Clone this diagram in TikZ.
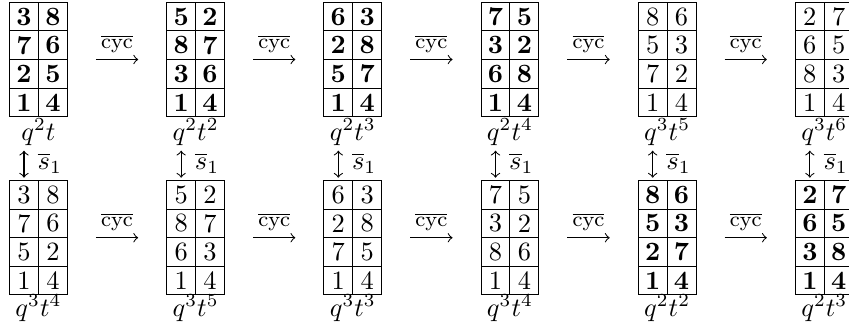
\documentclass[tikz,border=0pt]{standalone}
\usepackage{amsmath}
\usetikzlibrary{matrix,positioning}

\begin{document}
\begin{tikzpicture}[>=to,node distance=37.2pt,
        tab/.style={matrix of nodes,inner sep=0pt,outer sep=0pt,
            column sep=-0.4pt,row sep=-0.4pt,
            nodes={draw,minimum width=10.94pt,minimum height=10.81pt,inner sep=0pt,anchor=center}},
        heavy/.style={nodes={font=\bfseries}},
        lab/.style={inner sep=0pt},
        cyc/.style={->,shorten >=10.6pt,shorten <=10.6pt},
        cyclab/.style={anchor=base,yshift=4.1pt,inner sep=0pt,font=\footnotesize},
        flip/.style={<->,xshift=-1.1pt,shorten <=1.8pt,shorten >=1.1pt}]
            \useasboundingbox (0,0) rectangle (321.3pt,-124.1pt);

            % top row
            \matrix[tab,heavy,anchor=north west] (t1) at (3.41pt,-0.7pt) {
                3 & 8 \\ 7 & 6 \\ 2 & 5 \\ 1 & 4 \\ };
            \matrix[tab,heavy] (t2) [right=of t1] {
                5 & 2 \\ 8 & 7 \\ 3 & 6 \\ 1 & 4 \\ };
            \matrix[tab,heavy] (t3) [right=of t2] {
                6 & 3 \\ 2 & 8 \\ 5 & 7 \\ 1 & 4 \\ };
            \matrix[tab,heavy] (t4) [right=of t3] {
                7 & 5 \\ 3 & 2 \\ 6 & 8 \\ 1 & 4 \\ };
            \matrix[tab] (t5) [right=of t4] {
                8 & 6 \\ 5 & 3 \\ 7 & 2 \\ 1 & 4 \\ };
            \matrix[tab] (t6) [right=of t5] {
                2 & 7 \\ 6 & 5 \\ 8 & 3 \\ 1 & 4 \\ };

            % bottom row
            \matrix[tab] (b1) [below=23.8pt of t1] {
                3 & 8 \\ 7 & 6 \\ 5 & 2 \\ 1 & 4 \\ };
            \matrix[tab] (b2) [right=of b1] {
                5 & 2 \\ 8 & 7 \\ 6 & 3 \\ 1 & 4 \\ };
            \matrix[tab] (b3) [right=of b2] {
                6 & 3 \\ 2 & 8 \\ 7 & 5 \\ 1 & 4 \\ };
            \matrix[tab] (b4) [right=of b3] {
                7 & 5 \\ 3 & 2 \\ 8 & 6 \\ 1 & 4 \\ };
            \matrix[tab,heavy] (b5) [right=of b4] {
                8 & 6 \\ 5 & 3 \\ 2 & 7 \\ 1 & 4 \\ };
            \matrix[tab,heavy] (b6) [right=of b5] {
                2 & 7 \\ 6 & 5 \\ 3 & 8 \\ 1 & 4 \\ };

            % weights
            \node[lab] (lt1) [below=0.4pt of t1] {$q^2t$};
            \node[lab] (lt2) [below=0.4pt of t2] {$q^2t^2$};
            \node[lab] (lt3) [below=0.4pt of t3] {$q^2t^3$};
            \node[lab] (lt4) [below=0.4pt of t4] {$q^2t^4$};
            \node[lab] (lt5) [below=0.4pt of t5] {$q^3t^5$};
            \node[lab] (lt6) [below=0.4pt of t6] {$q^3t^6$};
            \node[lab] (lb1) [below=-0.4pt of b1] {$q^3t^4$};
            \node[lab] (lb2) [below=-0.4pt of b2] {$q^3t^5$};
            \node[lab] (lb3) [below=-0.4pt of b3] {$q^3t^3$};
            \node[lab] (lb4) [below=-0.4pt of b4] {$q^3t^4$};
            \node[lab] (lb5) [below=-0.4pt of b5] {$q^2t^2$};
            \node[lab] (lb6) [below=-0.4pt of b6] {$q^2t^3$};

            \path[cyc]
                (t1) edge node[cyclab] {$\overline{\mathrm{cyc}}$} (t2)
                (t2) edge node[cyclab] {$\overline{\mathrm{cyc}}$} (t3)
                (t3) edge node[cyclab] {$\overline{\mathrm{cyc}}$} (t4)
                (t4) edge node[cyclab] {$\overline{\mathrm{cyc}}$} (t5)
                (t5) edge node[cyclab] {$\overline{\mathrm{cyc}}$} (t6)
                (b1) edge node[cyclab] {$\overline{\mathrm{cyc}}$} (b2)
                (b2) edge node[cyclab] {$\overline{\mathrm{cyc}}$} (b3)
                (b3) edge node[cyclab] {$\overline{\mathrm{cyc}}$} (b4)
                (b4) edge node[cyclab] {$\overline{\mathrm{cyc}}$} (b5)
                (b5) edge node[cyclab] {$\overline{\mathrm{cyc}}$} (b6);

            \draw[flip] (lt1.south -| t1-4-1) -- (b1-1-1.north) node[midway,right=5pt,lab] {$\overline{s}_1$};
            \draw[flip] (lt2.south -| t2-4-1) -- (b2-1-1.north) node[midway,right=5pt,lab] {$\overline{s}_1$};
            \draw[flip] (lt3.south -| t3-4-1) -- (b3-1-1.north) node[midway,right=5pt,lab] {$\overline{s}_1$};
            \draw[flip] (lt4.south -| t4-4-1) -- (b4-1-1.north) node[midway,right=5pt,lab] {$\overline{s}_1$};
            \draw[flip] (lt5.south -| t5-4-1) -- (b5-1-1.north) node[midway,right=5pt,lab] {$\overline{s}_1$};
            \draw[flip] (lt6.south -| t6-4-1) -- (b6-1-1.north) node[midway,right=5pt,lab] {$\overline{s}_1$};
        \end{tikzpicture}
\end{document}
